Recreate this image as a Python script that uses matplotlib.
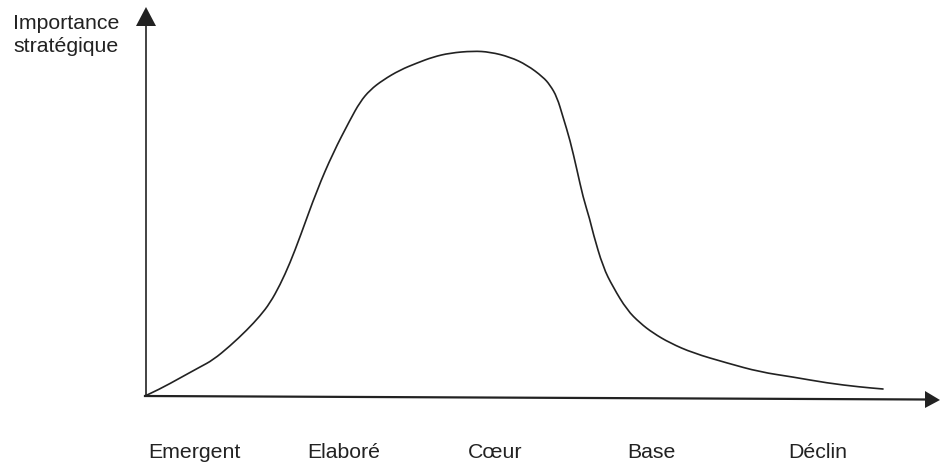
import matplotlib
matplotlib.use("Agg")
import matplotlib.pyplot as plt
from matplotlib.path import Path
from matplotlib.patches import PathPatch

# curve: position along the life cycle vs strategic importance
cycle_pos = [0, 15, 35, 55, 68, 85, 102, 115, 125, 135, 145, 155, 172, 188, 205, 215,
             225, 238, 255, 272, 288, 305, 328, 345, 365, 382, 398, 405, 412, 418, 425,
             432, 438, 445, 448, 458, 468, 482, 495, 508, 525, 548, 582, 615, 648, 682,
             715, 738]
importance = [0, 7, 18, 29, 36, 50, 66, 80, 93, 111, 133, 159, 206, 243, 276, 294,
              306, 316, 326, 333, 339, 343, 345, 344, 339, 331, 319, 311, 299, 279, 256,
              226, 199, 176, 163, 129, 109, 86, 73, 63, 53, 43, 33, 24, 19, 13,
              9, 7]

stages = ["Emergent", "Elaboré", "Cœur", "Base", "Déclin"]
stage_x = [49, 199, 350, 506, 673]

y_title = "Importance\nstratégique"

plt.rcParams['font.family'] = ['Liberation Sans', 'DejaVu Sans']
ink = '#222222'

fig = plt.figure(figsize=(9.4, 4.65), dpi=100)
ax = fig.add_axes([0, 0, 1, 1])
ax.set_xlim(-145, 795)
ax.set_ylim(-69, 396)
ax.axis('off')

# smooth the drawn line: read points act as quadratic control points
pts = list(zip(cycle_pos, importance))
verts = [pts[0]]
codes = [Path.MOVETO]
for i in range(1, len(pts) - 1):
    mid = ((pts[i][0] + pts[i + 1][0]) / 2, (pts[i][1] + pts[i + 1][1]) / 2)
    verts += [pts[i], mid]
    codes += [Path.CURVE3, Path.CURVE3]
verts.append(pts[-1])
codes.append(Path.LINETO)
ax.add_patch(PathPatch(Path(verts, codes), fill=False, edgecolor=ink, lw=1.2,
                       capstyle='round', joinstyle='round'))

# axes with arrow heads
ax.plot([1, 1], [0, 372], color=ink, lw=1.2)
ax.fill([-9, 11, 1], [370, 370, 389], color=ink, lw=0)
ax.plot([0, 780], [0, -3.5], color=ink, lw=1.6)
ax.fill([780, 780, 795], [-12, 5, -4], color=ink, lw=0)

ax.text(-132, 382, y_title, fontsize=15.3, color=ink, va='top', ha='left',
        linespacing=1.25)
for name, x in zip(stages, stage_x):
    ax.text(x, -56, name, fontsize=15.3, color=ink, ha='center', va='center')

fig.savefig('out.png', dpi=100)
